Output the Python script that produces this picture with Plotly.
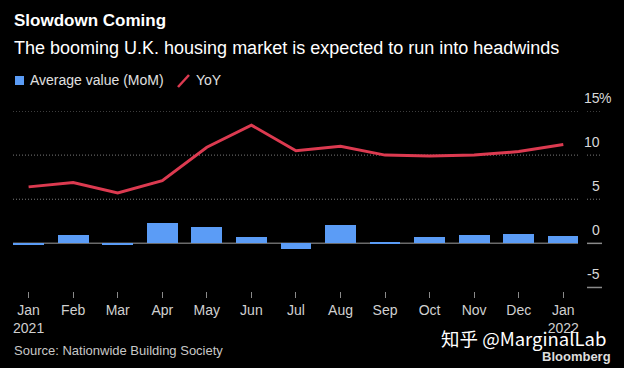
import plotly.graph_objects as go

# ---- data ----
months = ["Jan<br>2021", "Feb", "Mar", "Apr", "May", "Jun", "Jul",
          "Aug", "Sep", "Oct", "Nov", "Dec", "Jan<br>2022"]
mom_values = [-0.1, 0.9, -0.2, 2.3, 1.9, 0.7, -0.6, 2.1, 0.2, 0.7, 0.9, 1.1, 0.8]
yoy_values = [6.4, 6.9, 5.7, 7.1, 10.9, 13.4, 10.5, 11.0, 10.0, 9.9, 10.0, 10.4, 11.2]
y_ticks = [15, 10, 5, 0, -5]
y_tick_labels = ["15", "10", "5", "0", "-5"]

title = "Slowdown Coming"
subtitle = "The booming U.K. housing market is expected to run into headwinds"
legend_mom = "Average value (MoM)"
legend_yoy = "YoY"
source = "Source: Nationwide Building Society"

# ---- style ----
W, H = 624, 368
ML, MR, MT, MB = 13, 46, 111, 77
PW, PH = W - ML - MR, H - MT - MB
BLUE = "#5b9cf6"
RED = "#dc3a50"
FONT = "Liberation Sans, Arial, sans-serif"


def px(x):
    return (x - ML) / PW


def py(y):
    return (H - MB - y) / PH


fig = go.Figure()
fig.add_trace(go.Bar(x=months, y=mom_values, width=0.69,
                     marker=dict(color=BLUE, line=dict(width=0)),
                     name=legend_mom, showlegend=False))
fig.add_trace(go.Scatter(x=months, y=yoy_values, mode="lines",
                         line=dict(color=RED, width=3),
                         name=legend_yoy, showlegend=False))

shapes = []
annotations = []
seg0, seg1 = px(587), px(602)
for v, lab in zip(y_ticks, y_tick_labels):
    if v == 0:
        shapes.append(dict(type="line", xref="paper", yref="y", x0=0, x1=1,
                           y0=v, y1=v, line=dict(color="#6a6a6a", width=1.5),
                           layer="below"))
        shapes.append(dict(type="line", xref="paper", yref="y", x0=seg0, x1=seg1,
                           y0=v, y1=v, line=dict(color="#8a8a8a", width=1.5)))
    elif v == -5:
        shapes.append(dict(type="line", xref="paper", yref="y", x0=seg0, x1=seg1,
                           y0=v, y1=v, line=dict(color="#8a8a8a", width=1.5)))
    else:
        shapes.append(dict(type="line", xref="paper", yref="y", x0=0, x1=1,
                           y0=v, y1=v, line=dict(color="#7a7a7a", width=1, dash="1px,2px"),
                           layer="below"))
        shapes.append(dict(type="line", xref="paper", yref="y", x0=seg0, x1=seg1,
                           y0=v, y1=v, line=dict(color="#7a7a7a", width=1, dash="1px,2px")))
    annotations.append(dict(xref="paper", yref="y", x=seg1, y=v, text=lab,
                            xanchor="right", yanchor="bottom", yshift=3,
                            showarrow=False, font=dict(size=14, color="#d8d8d8", family=FONT)))
    if v == max(y_ticks):
        annotations.append(dict(xref="paper", yref="y", x=seg1, y=v, text="%",
                                xanchor="left", yanchor="bottom", yshift=3, xshift=-5,
                                showarrow=False, font=dict(size=14, color="#d8d8d8", family=FONT)))

# titles
annotations.append(dict(xref="paper", yref="paper", x=px(12), y=py(20), text="<b>" + title + "</b>",
                        xanchor="left", yanchor="middle", showarrow=False,
                        font=dict(size=17, color="#ffffff", family=FONT)))
annotations.append(dict(xref="paper", yref="paper", x=px(12), y=py(48), text=subtitle,
                        xanchor="left", yanchor="middle", showarrow=False,
                        font=dict(size=18, color="#ffffff", family=FONT)))
# legend
shapes.append(dict(type="rect", xref="paper", yref="paper", x0=px(15), x1=px(24),
                   y0=py(76), y1=py(85), fillcolor=BLUE, line=dict(width=0)))
annotations.append(dict(xref="paper", yref="paper", x=px(28), y=py(80), text=legend_mom,
                        xanchor="left", yanchor="middle", showarrow=False,
                        font=dict(size=14, color="#e0e0e0", family=FONT)))
shapes.append(dict(type="line", xref="paper", yref="paper", x0=px(178), x1=px(189),
                   y0=py(87), y1=py(75), line=dict(color=RED, width=2.5)))
annotations.append(dict(xref="paper", yref="paper", x=px(194), y=py(80), text=legend_yoy,
                        xanchor="left", yanchor="middle", showarrow=False,
                        font=dict(size=14, color="#e0e0e0", family=FONT)))
# footer
annotations.append(dict(xref="paper", yref="paper", x=px(12), y=py(350), text=source,
                        xanchor="left", yanchor="middle", showarrow=False,
                        font=dict(size=13, color="#c8c8c8", family=FONT)))
annotations.append(dict(xref="paper", yref="paper", x=px(608), y=py(338), text="知乎 @MarginalLab",
                        xanchor="right", yanchor="middle", showarrow=False,
                        font=dict(size=18.5, color="#ffffff", family="Noto Sans CJK SC, " + FONT)))
annotations.append(dict(xref="paper", yref="paper", x=px(613), y=py(356), text="<b>Bloomberg</b>",
                        xanchor="right", yanchor="middle", showarrow=False,
                        font=dict(size=13, color="#dddddd", family=FONT)))

fig.update_layout(
    width=W, height=H,
    margin=dict(l=ML, r=MR, t=MT, b=MB, pad=0),
    paper_bgcolor="#000000", plot_bgcolor="rgba(0,0,0,0)",
    font=dict(family=FONT, color="#d0d0d0"),
    showlegend=False,
    bargap=0,
    xaxis=dict(type="category", range=[-0.35, 12.33], showgrid=False, zeroline=False,
               showline=False, ticks="outside", ticklen=6, tickwidth=1, tickcolor="#8a8a8a",
               tickfont=dict(size=14, color="#d0d0d0", family=FONT), fixedrange=True),
    yaxis=dict(range=[-5.4, 15], showgrid=False, zeroline=False, showticklabels=False,
               showline=False, fixedrange=True),
    shapes=shapes,
    annotations=annotations,
)

fig.write_html("out.html", config={"displayModeBar": False},
               post_script="document.body.style.margin='0';document.body.style.background='#000';")
